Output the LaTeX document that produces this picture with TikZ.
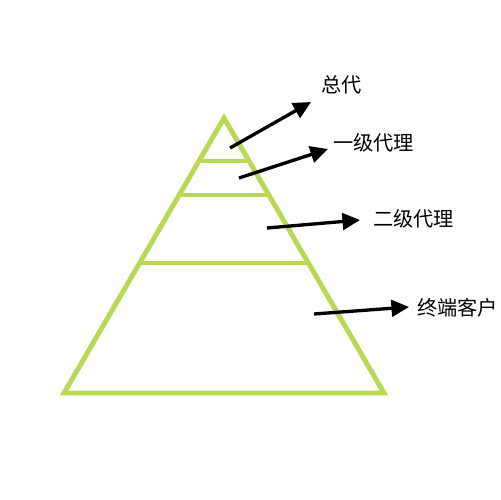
\documentclass[tikz,border=0pt]{standalone}
\usepackage{fontspec}
\newfontfamily\cjk{Noto Sans CJK SC}
\usetikzlibrary{arrows.meta,calc}
\definecolor{pyr}{RGB}{184,217,86}
\begin{document}
\begin{tikzpicture}[x=0.02cm,y=-0.02cm,
  outer/.style={draw=pyr,line width=2.8pt,line join=miter},
  band/.style={draw=pyr,line width=1.8pt},
  pointer/.style={draw=black,line width=1.9pt,-{Triangle[length=10pt,width=9.5pt]}},
  lbl/.style={font=\cjk\fontsize{11.5pt}{13pt}\selectfont,anchor=west,inner sep=0pt}]
\useasboundingbox (0,0) rectangle (500,500);
% pyramid
\coordinate (apex) at (224,118);
\coordinate (bl) at (64,393);
\coordinate (br) at (384,393);
\draw[outer] (apex) -- (br) -- (bl) -- cycle;
% band lines (computed on triangle edges)
\foreach \yy/\nm in {161/a,195/b,263/c}{
  \pgfmathsetmacro{\t}{(\yy-118)/(393-118)}
  \coordinate (l\nm) at ($(apex)!\t!(bl)$);
  \coordinate (r\nm) at ($(apex)!\t!(br)$);
}
\draw[band] (la) -- (ra);
\draw[band] (lb) -- (rb);
\draw[band] (lc) -- (rc);
% labels
\node[lbl] (t1) at (321,85) {总代};
\node[lbl] (t2) at (333,143) {一级代理};
\node[lbl] (t3) at (373,219) {二级代理};
\node[lbl] (t4) at (417,308) {终端客户};
% arrows
\coordinate (s1) at (230,148); \coordinate (e1) at (311,102);
\coordinate (s2) at (239,178); \coordinate (e2) at (328,149);
\coordinate (s3) at (267,228); \coordinate (e3) at (360,220);
\coordinate (s4) at (314,314); \coordinate (e4) at (409,307);
\draw[pointer] (s1) -- (e1);
\draw[pointer] (s2) -- (e2);
\draw[pointer] (s3) -- (e3);
\draw[pointer] (s4) -- (e4);
\end{tikzpicture}
\end{document}
